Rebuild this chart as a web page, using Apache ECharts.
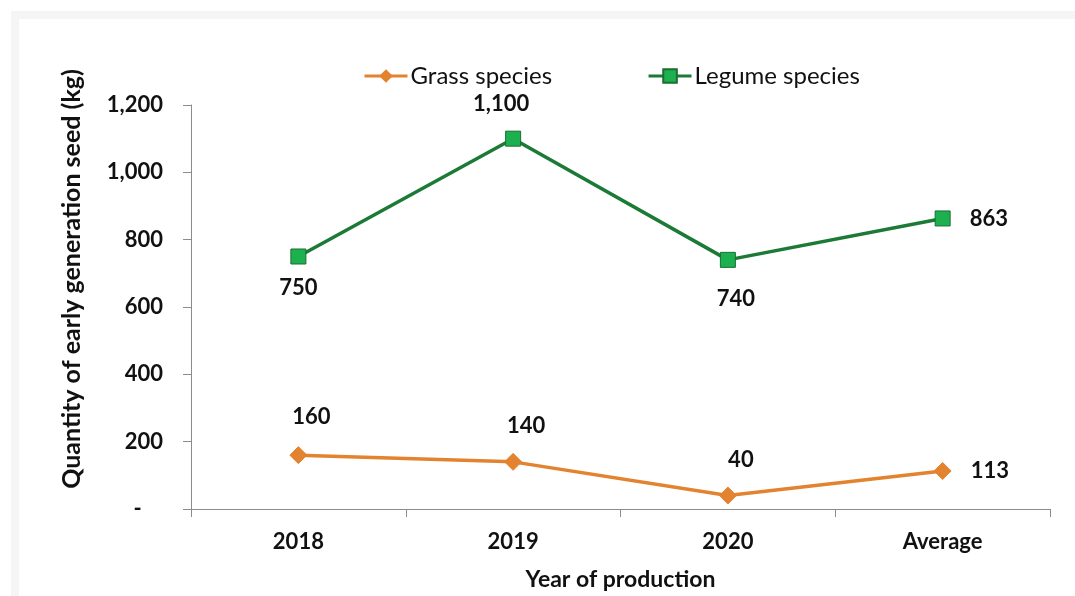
<!DOCTYPE html>
<html>
<head>
<meta charset="utf-8">
<script src="https://cdn.jsdelivr.net/npm/echarts@6/dist/echarts.min.js"></script>
<style>
html,body{margin:0;padding:0;background:#fff;}
#frame{position:absolute;left:11px;top:11px;width:1064px;height:585px;background:#f5f5f5;}
#panel{position:absolute;left:19px;top:19px;width:1056px;height:577px;background:#fff;}
#chart{position:absolute;left:0;top:0;width:1075px;height:596px;}
</style>
</head>
<body>
<div id="frame"></div>
<div id="panel"></div>
<div id="chart"></div>
<script>
const categories = ['2018', '2019', '2020', 'Average'];
const grassValues = [160, 140, 40, 113];
const legumeValues = [750, 1100, 740, 863];
const yTicks = [0, 200, 400, 600, 800, 1000, 1200];

const FONT = 'Lato';
const grassLabelPos = [
  {position: 'top', offset: [13, 0], distance: 18},
  {position: 'top', offset: [13, 0], distance: 16},
  {position: 'top', offset: [13, 0], distance: 16},
  {position: 'right', offset: [0, 0], distance: 19}
];
const legumeLabelPos = [
  {position: 'bottom', offset: [0, 0], distance: 12},
  {position: 'top', offset: [-12, 0], distance: 16},
  {position: 'bottom', offset: [8, 0], distance: 20},
  {position: 'right', offset: [0, 0], distance: 19}
];
function build(vals, pos) {
  return vals.map((v, i) => ({value: v, label: pos[i]}));
}
const fmt = v => v.toLocaleString('en-US');

const chart = echarts.init(document.getElementById('chart'), null, {renderer: 'canvas'});
chart.setOption({
  backgroundColor: 'transparent',
  animation: false,
  textStyle: {fontFamily: FONT},
  grid: {left: 191, right: 25, top: 105, bottom: 86, containLabel: false},
  legend: {
    left: 358, top: 59,
    itemWidth: 43, itemHeight: 17, itemGap: 95,
    lineStyle: {width: 3},
    textStyle: {fontFamily: FONT, fontSize: 24, color: '#111', padding: [0, 0, 0, -2]},
    data: ['Grass species', 'Legume species']
  },
  xAxis: {
    type: 'category',
    data: categories,
    boundaryGap: true,
    axisLine: {lineStyle: {color: '#8c8c8c', width: 1}},
    axisTick: {show: true, length: 8, lineStyle: {color: '#8c8c8c'}},
    axisLabel: {fontFamily: FONT, fontSize: 22, fontWeight: 'bold', color: '#111', margin: 22},
    name: 'Year of production',
    nameLocation: 'middle',
    nameGap: 59,
    nameTextStyle: {fontFamily: FONT, fontSize: 23, fontWeight: 'bold', color: '#111'}
  },
  yAxis: {
    type: 'value',
    min: 0, max: 1200, interval: 200,
    splitLine: {show: false},
    axisLine: {show: true, lineStyle: {color: '#8c8c8c', width: 1}},
    axisTick: {show: true, length: 8, inside: false, lineStyle: {color: '#8c8c8c'}},
    axisLabel: {
      fontFamily: FONT, fontSize: 22, fontWeight: 'bold', color: '#111', margin: 28,
      formatter: v => v === 0 ? '-    ' : fmt(v)
    }
  },
  graphic: [{
    type: 'text',
    x: 72, y: 279,
    rotation: Math.PI / 2,
    style: {
      text: 'Quantity of early generation seed (kg)',
      font: 'bold 25px ' + FONT,
      fill: '#111',
      align: 'center',
      verticalAlign: 'middle'
    }
  }],
  series: [
    {
      name: 'Grass species',
      type: 'line',
      data: build(grassValues, grassLabelPos),
      symbol: 'diamond',
      symbolSize: 17,
      lineStyle: {color: '#E3832F', width: 3.5},
      itemStyle: {color: '#E3832F', borderColor: '#E3832F'},
      label: {show: true, fontFamily: FONT, fontSize: 22, fontWeight: 'bold', color: '#111', formatter: p => fmt(p.value)}
    },
    {
      name: 'Legume species',
      type: 'line',
      data: build(legumeValues, legumeLabelPos),
      symbol: 'rect',
      symbolSize: 15,
      lineStyle: {color: '#1B7A36', width: 3.5},
      itemStyle: {color: '#1DB04E', borderColor: '#1B6E33', borderWidth: 1},
      label: {show: true, fontFamily: FONT, fontSize: 22, fontWeight: 'bold', color: '#111', formatter: p => fmt(p.value)}
    }
  ]
});
</script>
</body>
</html>
